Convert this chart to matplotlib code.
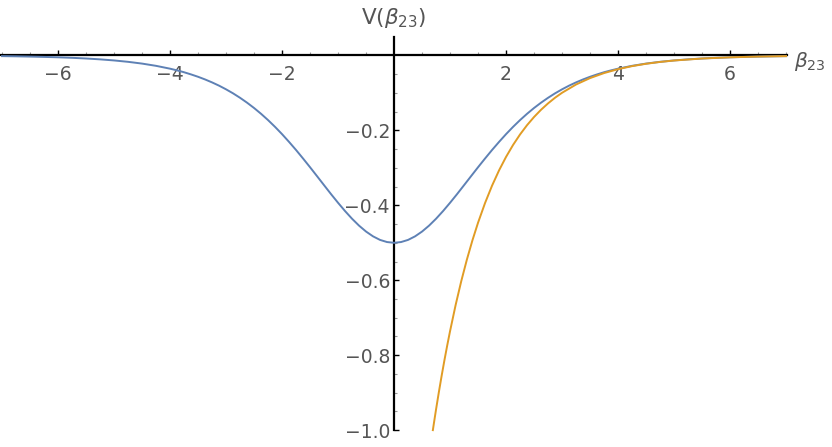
import matplotlib.pyplot as plt
import numpy as np
from matplotlib.ticker import FixedLocator

#--- Data ---#

# Blue curve: symmetric well, minimum -0.5 at beta=0 (positive half, mirrored below)
beta_half = [0.0, 0.125, 0.25, 0.375, 0.5, 0.625, 0.75, 0.875, 1.0, 1.125, 1.25,
             1.375, 1.5, 1.625, 1.75, 1.875, 2.0, 2.125, 2.25, 2.375, 2.5, 2.625,
             2.75, 2.875, 3.0, 3.125, 3.25, 3.375, 3.5, 3.625, 3.75, 3.875, 4.0,
             4.25, 4.5, 4.75, 5.0, 5.25, 5.5, 5.75, 6.0, 6.25, 6.5, 6.75, 7.0]
v_half = [-0.5000, -0.4980, -0.4923, -0.4828, -0.4700, -0.4542, -0.4358, -0.4153,
          -0.3932, -0.3701, -0.3462, -0.3222, -0.2983, -0.2750, -0.2523, -0.2307,
          -0.2100, -0.1906, -0.1725, -0.1557, -0.1402, -0.1260, -0.1130, -0.1011,
          -0.0904, -0.0806, -0.0719, -0.0640, -0.0569, -0.0506, -0.0448, -0.0398,
          -0.0353, -0.0277, -0.0217, -0.0170, -0.0133, -0.0104, -0.0081, -0.0063,
          -0.0049, -0.0039, -0.0030, -0.0023, -0.0018]

# Orange curve: starts at -1.0 near beta=0.69
beta_asym = [0.693, 0.72, 0.75, 0.8, 0.85, 0.9, 0.95, 1.0, 1.1, 1.2, 1.3, 1.4, 1.5,
             1.625, 1.75, 1.875, 2.0, 2.125, 2.25, 2.375, 2.5, 2.625, 2.75, 2.875,
             3.0, 3.25, 3.5, 3.75, 4.0, 4.25, 4.5, 4.75, 5.0, 5.5, 6.0, 6.5, 7.0]
v_asym = [-1.0000, -0.9735, -0.9447, -0.8987, -0.8548, -0.8131, -0.7735, -0.7358,
          -0.6657, -0.6024, -0.5451, -0.4932, -0.4463, -0.3938, -0.3475, -0.3067,
          -0.2707, -0.2389, -0.2108, -0.1860, -0.1642, -0.1449, -0.1279, -0.1128,
          -0.0996, -0.0775, -0.0604, -0.0470, -0.0366, -0.0285, -0.0222, -0.0173,
          -0.0135, -0.0082, -0.0050, -0.0030, -0.0018]

xticks = [-6, -4, -2, 2, 4, 6]
yticks = [-1.0, -0.8, -0.6, -0.4, -0.2]

col_blue = "#5E81B5"
col_orange = "#E19C24"
col_text = "#555555"

# mirror the blue half onto negative beta
beta_full = [-b for b in beta_half[:0:-1]] + beta_half
v_full = v_half[:0:-1] + v_half

# minor ticks only inside the drawn axes
xminor = [t for t in np.arange(-7.0, 7.01, 0.5) if t not in xticks and t != 0]
yminor = [t for t in np.round(np.arange(-0.95, 0.0, 0.05), 2) if t not in yticks]

#--- Plot ---#

plt.rcParams['font.family'] = 'DejaVu Sans'
fig = plt.figure(figsize=(8.32, 4.47), dpi=100)
ax = fig.add_axes([0, 0, 1, 1])

ax.plot(beta_full, v_full, color=col_blue, lw=1.4, zorder=3)
ax.plot(beta_asym, v_asym, color=col_orange, lw=1.4, zorder=3)

ax.set_xlim(-7.036, 7.82)
ax.set_ylim(-1.045, 0.148)

ax.spines['left'].set_position(('data', 0))
ax.spines['bottom'].set_position(('data', 0))
ax.spines['top'].set_visible(False)
ax.spines['right'].set_visible(False)
ax.spines['bottom'].set_bounds(-7.04, 7.02)
ax.spines['left'].set_bounds(-1.0, 0.05)
ax.spines['bottom'].set_linewidth(1.6)
ax.spines['left'].set_linewidth(1.6)
ax.patch.set_visible(False)

ax.xaxis.set_major_locator(FixedLocator(xticks))
ax.xaxis.set_minor_locator(FixedLocator(xminor))
ax.yaxis.set_major_locator(FixedLocator(yticks))
ax.yaxis.set_minor_locator(FixedLocator(yminor))
ax.set_xticklabels([f"{t}".replace("-", "\u2212") for t in xticks])
ax.set_yticklabels([f"{t:.1f}".replace("-", "\u2212") for t in yticks])

ax.tick_params(axis='both', which='major', direction='in', length=3.5, width=1,
               color='black', labelsize=13.5, labelcolor=col_text)
ax.tick_params(axis='both', which='minor', direction='in', length=2, width=0.8,
               color='#999999')
ax.tick_params(axis='x', which='major', pad=7)
ax.tick_params(axis='y', which='major', pad=3)

ax.text(0, 0.1, r"V($\beta_{23}$)", ha='center', va='center',
        fontsize=15.5, color=col_text)
ax.text(7.14, -0.017, r"$\beta_{23}$", ha='left', va='center',
        fontsize=14.5, color=col_text)

plt.savefig("out.png", dpi=100)
